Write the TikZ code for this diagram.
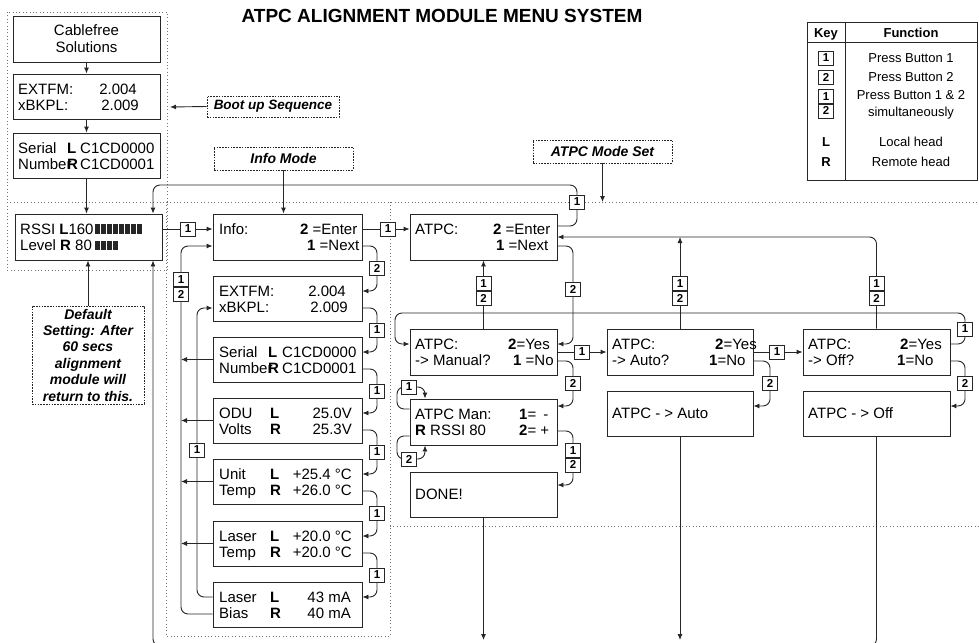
\documentclass[tikz,border=0pt]{standalone}
\usepackage{fontspec}
\setmainfont{Liberation Sans}
\usetikzlibrary{arrows.meta}
\newcommand\boxfont{\fontsize{15}{17}\selectfont}
\newcommand\notefont{\fontsize{14}{16.4}\selectfont\bfseries\itshape}
\newcommand\keyfont{\fontsize{11.5}{12}\selectfont\bfseries}
\newcommand\tabfont{\fontsize{13}{15}\selectfont}
\newcounter{tn}
\newcommand\tlw[3]{\stepcounter{tn}\node[tl] (t\arabic{tn}) at (#1,#2) {#3};}
\newcommand\tre[3]{\stepcounter{tn}\node[trt] (t\arabic{tn}) at (#1,#2) {#3};}
\newcommand\kb[4]{\node[kbox] (#1) at (#2,#3) {#4};}
\newcommand\kbs[3]{\node[kbox,anchor=south] (#1a) at (#2,#3) {1};\node[kbox,anchor=north] (#1b) at (#2,#3) {2};}
\begin{document}
\begin{tikzpicture}[x=1pt,y=-1pt,
  box/.style={draw=black!85, line width=0.9pt, inner sep=0pt},
  note/.style={draw=black!85, line width=0.8pt, dash pattern=on 1.6pt off 1.2pt, inner sep=0pt, font=\notefont, align=center},
  kbox/.style={draw=black!85, line width=0.9pt, fill=white, minimum width=15pt, minimum height=14pt, inner sep=0pt, font=\keyfont},
  tl/.style={anchor=base west, inner sep=0pt, font=\boxfont},
  trt/.style={anchor=base east, inner sep=0pt, font=\boxfont},
  tc/.style={anchor=base, inner sep=0pt, font=\tabfont},
  con/.style={draw=black!85, line width=0.9pt},
  arr/.style={con, -{Latex[length=6pt,width=5pt]}},
  rc/.style={rounded corners=7pt},
  grp/.style={draw=black!55, line width=0.8pt, dash pattern=on 0.8pt off 2.6pt}]
\useasboundingbox (0,0) rectangle (979,642);

% ---------- group outlines ----------
\draw[grp] (7,12) rectangle (167,270);
\draw[grp] (7,202) -- (979,202);
\draw[grp] (166,202) -- (166,636) -- (390,636) -- (390,202);
\draw[grp] (390,526) -- (979,526);

% ---------- title ----------
\node[font=\fontsize{19}{21}\selectfont\bfseries] (title) at (442,15.5) {ATPC ALIGNMENT MODULE MENU SYSTEM};

% ---------- key table ----------
\draw[con,line width=0.8pt] (807,22) rectangle (977,180);
\draw[con,line width=0.8pt] (845,22) -- (845,180);
\draw[con,line width=0.8pt] (807,42) -- (977,42);
\node[tc] (kh1) at (826,37.5) {\textbf{Key}};
\node[tc] (kh2) at (911,37.5) {\textbf{Function}};
\kb{tk1}{826}{58}{1}
\kb{tk2}{826}{77}{2}
\kbs{tk3}{826}{103.5}
\node[tc] (kf1) at (911,62.7) {Press Button 1};
\node[tc] (kf2) at (911,81.7) {Press Button 2};
\node[tc] (kf3) at (911,99.7) {Press Button 1 \& 2};
\node[tc] (kf4) at (911,116.7) {simultaneously};
\node[tc] (kl) at (826,146.7) {\textbf{L}};
\node[tc] (kf5) at (911,146.7) {Local head};
\node[tc] (kr) at (826,166.7) {\textbf{R}};
\node[tc] (kf6) at (911,166.7) {Remote head};

% ---------- notes ----------
\node[note, minimum width=132pt, minimum height=21pt, font=\fontsize{13.5}{15}\selectfont\bfseries\itshape] (bootnote) at (273,106.5) {Boot up Sequence};
\node[note, minimum width=139pt, minimum height=23pt] (infonote) at (283.5,158.5) {Info Mode};
\node[note, minimum width=139pt, minimum height=23pt] (atpcnote) at (602.5,151.5) {ATPC Mode Set};
\node[note, minimum width=112pt, minimum height=98pt] (deflt) at (88,355) {Default\\Setting: After\\60 secs\\alignment\\module will\\return to this.};

% ---------- boot column ----------
\node[box, minimum width=147pt, minimum height=46pt, align=center, font=\boxfont] (cable) at (86.5,39) {Cablefree\\Solutions};
\node[box, minimum width=147pt, minimum height=45pt] (ext1) at (86.5,96.5) {};
\node[box, minimum width=147pt, minimum height=45pt] (ser1) at (86.5,155.5) {};
\node[box, minimum width=147pt, minimum height=46pt] (rssi) at (88.5,237) {};
\tlw{18}{94}{EXTFM:} \tre{137}{94}{2.004}
\tlw{18}{110.5}{xBKPL:} \tre{139}{110.5}{2.009}
\tlw{18}{153}{Serial} \tlw{67}{153}{\textbf{L}} \tlw{80}{153}{C1CD0000}
\tlw{18}{169.5}{Number} \tlw{67}{169.5}{\textbf{R}} \tlw{80}{169.5}{C1CD0001}
\tlw{20}{234}{RSSI \textbf{L}160}
\tlw{20}{250.5}{Level \textbf{R} 80}
\foreach \i in {0,...,7} \fill[black!85] (95+6*\i,223.5) rectangle (99.5+6*\i,233.5);
\foreach \i in {0,...,3} \fill[black!85] (95+6*\i,240.5) rectangle (99.5+6*\i,250);

% ---------- info column ----------
\node[box, minimum width=149pt, minimum height=46pt] (info) at (287.5,237) {};
\node[box, minimum width=149pt, minimum height=45pt] (ext2) at (287.5,298.5) {};
\node[box, minimum width=149pt, minimum height=45pt] (ser2) at (287.5,359.5) {};
\node[box, minimum width=149pt, minimum height=45pt] (odu) at (287.5,420.5) {};
\node[box, minimum width=149pt, minimum height=45pt] (unit) at (287.5,481.5) {};
\node[box, minimum width=149pt, minimum height=45pt] (lt) at (287.5,543.5) {};
\node[box, minimum width=149pt, minimum height=45pt] (lb) at (287.5,604.5) {};
\tlw{219}{234}{Info:} \tlw{300}{234}{\textbf{2} =Enter}
\tlw{307}{250.5}{\textbf{1} =Next}
\tlw{219}{296}{EXTFM:} \tre{346}{296}{2.004}
\tlw{219}{312.5}{xBKPL:} \tre{348}{312.5}{2.009}
\tlw{219}{357}{Serial} \tlw{268}{357}{\textbf{L}} \tlw{282}{357}{C1CD0000}
\tlw{219}{373.5}{Number} \tlw{268}{373.5}{\textbf{R}} \tlw{282}{373.5}{C1CD0001}
\tlw{219}{418}{ODU} \tlw{270}{418}{\textbf{L}} \tre{352}{418}{25.0V}
\tlw{219}{434.5}{Volts} \tlw{270}{434.5}{\textbf{R}} \tre{352}{434.5}{25.3V}
\tlw{219}{479}{Unit} \tlw{270}{479}{\textbf{L}} \tre{352}{479}{+25.4 °C}
\tlw{219}{495.5}{Temp} \tlw{270}{495.5}{\textbf{R}} \tre{352}{495.5}{+26.0 °C}
\tlw{219}{541}{Laser} \tlw{270}{541}{\textbf{L}} \tre{352}{541}{+20.0 °C}
\tlw{219}{557.5}{Temp} \tlw{270}{557.5}{\textbf{R}} \tre{352}{557.5}{+20.0 °C}
\tlw{219}{602}{Laser} \tlw{270}{602}{\textbf{L}} \tre{351}{602}{43 mA}
\tlw{219}{618.5}{Bias} \tlw{270}{618.5}{\textbf{R}} \tre{351}{618.5}{40 mA}

% ---------- ATPC column ----------
\node[box, minimum width=147pt, minimum height=46pt] (atpc) at (483.5,237) {};
\node[box, minimum width=147pt, minimum height=46pt] (man) at (483.5,352) {};
\node[box, minimum width=147pt, minimum height=46pt] (atpcman) at (483.5,422) {};
\node[box, minimum width=147pt, minimum height=45pt] (done) at (483.5,494.5) {};
\node[box, minimum width=146pt, minimum height=46pt] (auto) at (680,352) {};
\node[box, minimum width=146pt, minimum height=45pt] (autores) at (680,413.5) {};
\node[box, minimum width=147pt, minimum height=46pt] (off) at (876.5,352) {};
\node[box, minimum width=147pt, minimum height=45pt] (offres) at (876.5,413.5) {};
\tlw{415}{234}{ATPC:} \tlw{493}{234}{\textbf{2} =Enter}
\tlw{496}{250.5}{\textbf{1} =Next}
\tlw{415}{349}{ATPC:} \tlw{508}{349}{\textbf{2}=Yes}
\tlw{415}{365.5}{-> Manual?} \tlw{513}{365.5}{\textbf{1} =No}
\tlw{415}{419}{ATPC Man:} \tlw{519}{419}{\textbf{1}=\hspace{7pt}-}
\tlw{415}{435.5}{\textbf{R} RSSI 80} \tlw{519}{435.5}{\textbf{2}= +}
\tlw{415}{499.5}{DONE!}
\tlw{612}{349}{ATPC:} \tlw{715}{349}{\textbf{2}=Yes}
\tlw{612}{365.5}{-> Auto?} \tlw{709}{365.5}{\textbf{1}=No}
\tlw{612}{418.5}{ATPC - > Auto}
\tlw{808}{349}{ATPC:} \tlw{900}{349}{\textbf{2}=Yes}
\tlw{808}{365.5}{-> Off?} \tlw{897}{365.5}{\textbf{1}=No}
\tlw{808}{418.5}{ATPC - > Off}

% ---------- connectors: boot ----------
\coordinate (bootend) at (170,107);
\coordinate (atpcgrp) at (602.5,202);
\draw[arr] (cable) -- (ext1);
\draw[arr] (ext1) -- (ser1);
\draw[arr] (ser1) -- (ser1 |- rssi.north);
\draw[arr] (deflt) -- (deflt |- rssi.south);
\draw[arr] (bootnote.west) -- (bootend);
\draw[arr] (infonote.south) -- (infonote.south |- info.north);
\draw[arr] (atpcnote.south) -- (atpcgrp);
\draw[arr,rc] (atpc.east |- 0,226) -- (577,226) -- (577,185) -- (153,185) -- (rssi.north -| 153,0);
\draw[arr,rc] (163,646) -- (153,646) -- (rssi.south -| 153,0);
\draw[arr] (rssi.east |- 0,229) -- (info.west |- 0,229);
\draw[arr] (info.east |- 0,229) -- (atpc.west |- 0,229);

% ---------- connectors: info ----------
\draw[arr,rc] (info.east |- 0,246) -- (377,246) -- (377,291) -- (ext2.east |- 0,291);
\draw[arr,rc] (ext2.east |- 0,308) -- (377,308) -- (377,352) -- (ser2.east |- 0,352);
\draw[arr,rc] (ser2.east |- 0,369) -- (377,369) -- (377,413) -- (odu.east |- 0,413);
\draw[arr,rc] (odu.east |- 0,430) -- (377,430) -- (377,474) -- (unit.east |- 0,474);
\draw[arr,rc] (unit.east |- 0,491) -- (377,491) -- (377,536) -- (lt.east |- 0,536);
\draw[arr,rc] (lt.east |- 0,553) -- (377,553) -- (377,597) -- (lb.east |- 0,597);
\draw[arr,rc] (lb.west |- 0,614) -- (181,614) -- (181,246) -- (info.west |- 0,246);
\draw[arr,rc] (lb.west |- 0,597) -- (197,597) -- (197,308) -- (ext2.west |- 0,308);
\draw[arr] (ser2.west) -- (ser2.west -| 181,0);
\draw[arr] (odu.west) -- (odu.west -| 181,0);
\draw[arr] (unit.west) -- (unit.west -| 181,0);
\draw[arr] (lt.west) -- (lt.west -| 181,0);

% ---------- connectors: ATPC ----------
\draw[arr,rc] (atpc.east |- 0,246) -- (573,246) -- (573,344) -- (man.east |- 0,344);
\draw[arr] (man.north) -- (atpc.south);
\draw[arr] (auto.north) -- (auto.north |- 0,237);
\draw[arr,rc] (off.north) -- (off.north |- 0,237) -- (atpc.east |- 0,237);
\draw[arr,rc] (off.east |- 0,344) -- (965,344) -- (965,313) -- (395,313) -- (395,344) -- (man.west |- 0,344);
\draw[arr] (man.east |- 0,352) -- (auto.west |- 0,352);
\draw[arr,rc] (man.east |- 0,361) -- (573,361) -- (573,406) -- (atpcman.east |- 0,406);
\draw[arr,rc] (atpcman.east |- 0,431) -- (573,431) -- (573,485) -- (done.east |- 0,485);
\draw[arr,rc] (atpcman.west |- 0,409) -- (397,409) -- (397,387) -- (425,387) -- (atpcman.north -| 425,0);
\draw[arr,rc] (atpcman.west |- 0,436) -- (397,436) -- (397,459) -- (425,459) -- (atpcman.south -| 425,0);
\draw[arr] (auto.east |- 0,352) -- (off.west |- 0,352);
\draw[arr,rc] (auto.east |- 0,361) -- (770,361) -- (770,406) -- (autores.east |- 0,406);
\draw[arr,rc] (off.east |- 0,361) -- (965,361) -- (965,406) -- (offres.east |- 0,406);
\draw[arr] (done.south) -- (done.south |- 0,640);
\draw[arr] (autores.south) -- (autores.south |- 0,640);
\draw[con,rc] (offres.south) -- (offres.south |- 0,646) -- (866,646);

% ---------- key boxes on connectors ----------
\kb{k1}{188}{229}{1}
\kb{k2}{388}{229}{1}
\kb{k3}{377}{268.5}{2}
\kb{k4}{377}{330}{1}
\kb{k5}{377}{391}{1}
\kb{k6}{377}{452}{1}
\kb{k7}{377}{513.5}{1}
\kb{k8}{377}{575}{1}
\kbs{k9}{181}{287}
\kb{k10}{197}{450}{1}
\kb{k11}{577}{202}{1}
\kb{k12}{573}{289}{2}
\kbs{k13}{483.5}{291}
\kbs{k14}{680}{291}
\kbs{k15}{876.5}{291}
\kb{k16}{965}{329}{1}
\kb{k17}{582}{352}{1}
\kb{k18}{573}{383}{2}
\kbs{k19}{573}{457.5}
\kb{k20}{409}{387}{1}
\kb{k21}{409}{459}{2}
\kb{k22}{777}{352}{1}
\kb{k23}{770}{383}{2}
\kb{k24}{965}{383}{2}
\end{tikzpicture}
\end{document}
